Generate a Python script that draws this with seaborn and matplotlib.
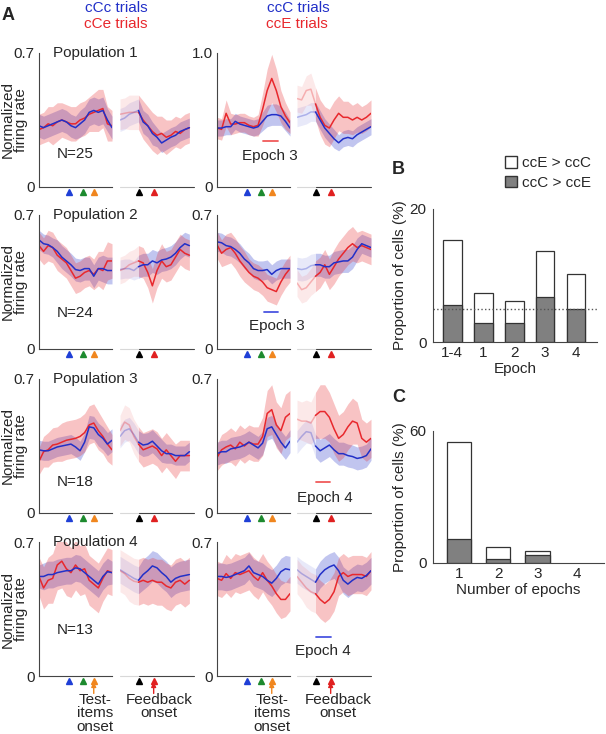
import numpy as np
import matplotlib.pyplot as plt
import seaborn as sns
from matplotlib.patches import Patch

sns.set_theme(style="white")
plt.rcParams['font.family'] = ['Liberation Sans', 'DejaVu Sans']

# ---- Panel A data: mean normalized firing rate and SEM, step 0.25 (a.u.) ----
# cCc (blue) / cCe (red) trials, left column
p1_cCc_pre = [0.32, 0.31, 0.32, 0.33, 0.34, 0.35, 0.34, 0.32, 0.31, 0.33, 0.35, 0.39, 0.40, 0.39, 0.40, 0.35, 0.31]
p1_cCc_pre_err = [0.06, 0.06, 0.06, 0.06, 0.06, 0.06, 0.06, 0.06, 0.06, 0.07, 0.07, 0.07, 0.07, 0.07, 0.07, 0.06, 0.06]
p1_cCe_pre = [0.30, 0.31, 0.33, 0.32, 0.34, 0.35, 0.34, 0.33, 0.33, 0.35, 0.36, 0.38, 0.39, 0.40, 0.41, 0.33, 0.32]
p1_cCe_pre_err = [0.08, 0.08, 0.09, 0.10, 0.10, 0.09, 0.09, 0.09, 0.09, 0.09, 0.09, 0.09, 0.10, 0.11, 0.10, 0.09, 0.08]
p1_cCc_fb = [0.35, 0.36, 0.38, 0.39, 0.40, 0.34, 0.32, 0.28, 0.26, 0.23, 0.245, 0.26, 0.27, 0.29, 0.30, 0.31]
p1_cCc_fb_err = [0.06, 0.06, 0.06, 0.06, 0.06, 0.06, 0.06, 0.06, 0.05, 0.05, 0.05, 0.05, 0.05, 0.05, 0.05, 0.05]
p1_cCe_fb = [0.38, 0.385, 0.39, 0.39, 0.39, 0.35, 0.32, 0.29, 0.27, 0.28, 0.26, 0.27, 0.29, 0.28, 0.30, 0.31]
p1_cCe_fb_err = [0.08, 0.08, 0.09, 0.09, 0.09, 0.10, 0.10, 0.10, 0.10, 0.09, 0.09, 0.08, 0.08, 0.08, 0.08, 0.08]

p2_cCc_pre = [0.57, 0.55, 0.545, 0.53, 0.51, 0.48, 0.46, 0.44, 0.415, 0.41, 0.42, 0.42, 0.38, 0.42, 0.42, 0.41, 0.41]
p2_cCc_pre_err = [0.05, 0.05, 0.05, 0.05, 0.06, 0.06, 0.06, 0.06, 0.06, 0.06, 0.06, 0.06, 0.06, 0.06, 0.07, 0.07, 0.07]
p2_cCe_pre = [0.54, 0.51, 0.54, 0.53, 0.49, 0.47, 0.45, 0.41, 0.37, 0.38, 0.40, 0.41, 0.39, 0.42, 0.41, 0.46, 0.46]
p2_cCe_pre_err = [0.07, 0.07, 0.08, 0.08, 0.08, 0.08, 0.08, 0.08, 0.08, 0.08, 0.08, 0.08, 0.08, 0.09, 0.10, 0.10, 0.09]
p2_cCc_fb = [0.415, 0.42, 0.42, 0.41, 0.43, 0.44, 0.44, 0.46, 0.45, 0.465, 0.47, 0.48, 0.50, 0.53, 0.55, 0.54]
p2_cCc_fb_err = [0.05, 0.05, 0.05, 0.05, 0.06, 0.06, 0.06, 0.06, 0.06, 0.06, 0.06, 0.06, 0.06, 0.06, 0.06, 0.06]
p2_cCe_fb = [0.41, 0.42, 0.44, 0.45, 0.46, 0.45, 0.40, 0.33, 0.41, 0.46, 0.43, 0.44, 0.48, 0.52, 0.50, 0.49]
p2_cCe_fb_err = [0.07, 0.07, 0.07, 0.07, 0.08, 0.08, 0.08, 0.09, 0.09, 0.09, 0.08, 0.08, 0.08, 0.08, 0.08, 0.08]

p3_cCc_pre = [0.33, 0.325, 0.325, 0.335, 0.345, 0.35, 0.355, 0.36, 0.345, 0.325, 0.37, 0.45, 0.445, 0.41, 0.39, 0.36, 0.38]
p3_cCc_pre_err = [0.05, 0.05, 0.05, 0.05, 0.05, 0.05, 0.05, 0.05, 0.05, 0.05, 0.05, 0.06, 0.06, 0.06, 0.06, 0.06, 0.06]
p3_cCe_pre = [0.27, 0.32, 0.33, 0.355, 0.36, 0.37, 0.38, 0.385, 0.39, 0.40, 0.42, 0.46, 0.47, 0.43, 0.40, 0.36, 0.33]
p3_cCe_pre_err = [0.07, 0.08, 0.09, 0.09, 0.09, 0.10, 0.10, 0.10, 0.10, 0.10, 0.10, 0.10, 0.10, 0.10, 0.09, 0.09, 0.08]
p3_cCc_fb = [0.40, 0.43, 0.44, 0.41, 0.37, 0.355, 0.36, 0.375, 0.35, 0.325, 0.31, 0.31, 0.30, 0.30, 0.30, 0.32]
p3_cCc_fb_err = [0.06, 0.06, 0.06, 0.06, 0.06, 0.06, 0.06, 0.06, 0.06, 0.06, 0.05, 0.05, 0.05, 0.05, 0.05, 0.05]
p3_cCe_fb = [0.43, 0.475, 0.46, 0.40, 0.36, 0.33, 0.34, 0.35, 0.335, 0.30, 0.33, 0.30, 0.27, 0.30, 0.30, 0.30]
p3_cCe_fb_err = [0.08, 0.09, 0.09, 0.09, 0.09, 0.09, 0.09, 0.09, 0.09, 0.09, 0.09, 0.09, 0.09, 0.08, 0.08, 0.08]

p4_cCc_pre = [0.52, 0.52, 0.53, 0.53, 0.54, 0.545, 0.55, 0.55, 0.565, 0.56, 0.54, 0.52, 0.50, 0.48, 0.52, 0.545, 0.54]
p4_cCc_pre_err = [0.06, 0.07, 0.07, 0.07, 0.07, 0.07, 0.07, 0.07, 0.07, 0.07, 0.07, 0.07, 0.07, 0.07, 0.07, 0.07, 0.06]
p4_cCe_pre = [0.52, 0.46, 0.50, 0.51, 0.58, 0.60, 0.56, 0.54, 0.58, 0.55, 0.56, 0.50, 0.48, 0.46, 0.51, 0.55, 0.54]
p4_cCe_pre_err = [0.10, 0.11, 0.12, 0.13, 0.13, 0.14, 0.14, 0.13, 0.13, 0.13, 0.13, 0.13, 0.13, 0.13, 0.12, 0.12, 0.12]
p4_cCc_fb = [0.555, 0.54, 0.525, 0.51, 0.50, 0.53, 0.55, 0.575, 0.565, 0.54, 0.52, 0.49, 0.51, 0.52, 0.525, 0.53]
p4_cCc_fb_err = [0.07, 0.07, 0.07, 0.07, 0.07, 0.08, 0.08, 0.08, 0.08, 0.08, 0.08, 0.08, 0.08, 0.08, 0.08, 0.08]
p4_cCe_fb = [0.55, 0.535, 0.51, 0.495, 0.49, 0.50, 0.49, 0.50, 0.49, 0.49, 0.47, 0.46, 0.49, 0.50, 0.48, 0.50]
p4_cCe_fb_err = [0.11, 0.11, 0.12, 0.12, 0.12, 0.12, 0.12, 0.12, 0.12, 0.12, 0.12, 0.12, 0.12, 0.12, 0.12, 0.12]

# ccC (blue) / ccE (red) trials, right column
p1_ccC_pre = [0.44, 0.44, 0.45, 0.45, 0.49, 0.47, 0.46, 0.45, 0.44, 0.45, 0.49, 0.53, 0.54, 0.54, 0.53, 0.49, 0.44]
p1_ccC_pre_err = [0.06, 0.06, 0.06, 0.06, 0.06, 0.06, 0.06, 0.06, 0.06, 0.06, 0.07, 0.08, 0.08, 0.08, 0.07, 0.07, 0.06]
p1_ccE_pre = [0.44, 0.43, 0.55, 0.47, 0.47, 0.48, 0.48, 0.46, 0.45, 0.46, 0.58, 0.72, 0.81, 0.72, 0.60, 0.53, 0.48]
p1_ccE_pre_err = [0.08, 0.08, 0.10, 0.08, 0.07, 0.07, 0.07, 0.07, 0.07, 0.08, 0.12, 0.16, 0.18, 0.16, 0.12, 0.10, 0.08]
p1_ccC_fb = [0.52, 0.53, 0.54, 0.56, 0.56, 0.50, 0.44, 0.40, 0.36, 0.33, 0.36, 0.37, 0.36, 0.39, 0.41, 0.43, 0.45]
p1_ccC_fb_err = [0.07, 0.07, 0.07, 0.07, 0.07, 0.07, 0.07, 0.07, 0.07, 0.06, 0.06, 0.06, 0.06, 0.06, 0.06, 0.06, 0.06]
p1_ccE_fb = [0.66, 0.65, 0.72, 0.73, 0.62, 0.52, 0.46, 0.44, 0.50, 0.55, 0.52, 0.52, 0.50, 0.52, 0.50, 0.52, 0.55]
p1_ccE_fb_err = [0.10, 0.10, 0.11, 0.12, 0.12, 0.13, 0.14, 0.14, 0.14, 0.13, 0.12, 0.12, 0.11, 0.11, 0.10, 0.10, 0.10]

p2_ccC_pre = [0.56, 0.555, 0.54, 0.535, 0.52, 0.50, 0.47, 0.45, 0.42, 0.41, 0.41, 0.415, 0.39, 0.41, 0.42, 0.42, 0.42]
p2_ccC_pre_err = [0.05, 0.05, 0.05, 0.05, 0.05, 0.05, 0.05, 0.05, 0.05, 0.05, 0.05, 0.05, 0.05, 0.05, 0.05, 0.05, 0.05]
p2_ccE_pre = [0.545, 0.50, 0.52, 0.53, 0.50, 0.46, 0.43, 0.40, 0.38, 0.37, 0.35, 0.32, 0.31, 0.30, 0.35, 0.39, 0.42]
p2_ccE_pre_err = [0.07, 0.07, 0.08, 0.08, 0.08, 0.08, 0.08, 0.07, 0.07, 0.07, 0.07, 0.07, 0.07, 0.07, 0.07, 0.07, 0.07]
p2_ccC_fb = [0.42, 0.415, 0.42, 0.435, 0.44, 0.44, 0.43, 0.43, 0.45, 0.455, 0.46, 0.46, 0.48, 0.52, 0.55, 0.54, 0.53]
p2_ccC_fb_err = [0.06, 0.06, 0.06, 0.06, 0.06, 0.06, 0.06, 0.06, 0.06, 0.06, 0.06, 0.06, 0.06, 0.06, 0.05, 0.05, 0.05]
p2_ccE_fb = [0.345, 0.31, 0.32, 0.35, 0.38, 0.40, 0.44, 0.39, 0.43, 0.47, 0.50, 0.53, 0.55, 0.53, 0.54, 0.53, 0.52]
p2_ccE_fb_err = [0.07, 0.07, 0.07, 0.07, 0.08, 0.08, 0.08, 0.08, 0.09, 0.09, 0.09, 0.09, 0.09, 0.08, 0.08, 0.08, 0.08]

p3_ccC_pre = [0.31, 0.32, 0.32, 0.335, 0.34, 0.345, 0.355, 0.37, 0.355, 0.34, 0.365, 0.44, 0.45, 0.41, 0.37, 0.34, 0.375]
p3_ccC_pre_err = [0.06, 0.06, 0.06, 0.06, 0.06, 0.06, 0.06, 0.06, 0.06, 0.06, 0.06, 0.06, 0.06, 0.06, 0.06, 0.06, 0.06]
p3_ccE_pre = [0.29, 0.33, 0.345, 0.355, 0.335, 0.37, 0.35, 0.37, 0.36, 0.36, 0.40, 0.52, 0.54, 0.46, 0.43, 0.50, 0.52]
p3_ccE_pre_err = [0.07, 0.08, 0.08, 0.09, 0.09, 0.09, 0.09, 0.09, 0.09, 0.09, 0.10, 0.12, 0.13, 0.12, 0.12, 0.12, 0.12]
p3_ccC_fb = [0.37, 0.40, 0.425, 0.42, 0.35, 0.325, 0.34, 0.355, 0.33, 0.31, 0.31, 0.30, 0.295, 0.285, 0.29, 0.30, 0.335]
p3_ccC_fb_err = [0.06, 0.06, 0.06, 0.06, 0.06, 0.06, 0.06, 0.06, 0.06, 0.06, 0.06, 0.06, 0.06, 0.06, 0.06, 0.06, 0.06]
p3_ccE_fb = [0.49, 0.48, 0.48, 0.47, 0.51, 0.53, 0.53, 0.50, 0.44, 0.39, 0.41, 0.45, 0.48, 0.47, 0.39, 0.37, 0.39]
p3_ccE_fb_err = [0.10, 0.10, 0.11, 0.11, 0.12, 0.14, 0.14, 0.13, 0.13, 0.12, 0.12, 0.12, 0.12, 0.11, 0.10, 0.10, 0.10]

p4_ccC_pre = [0.52, 0.52, 0.515, 0.52, 0.53, 0.54, 0.55, 0.575, 0.54, 0.53, 0.52, 0.50, 0.485, 0.51, 0.545, 0.56, 0.555]
p4_ccC_pre_err = [0.07, 0.07, 0.07, 0.07, 0.07, 0.07, 0.07, 0.07, 0.07, 0.07, 0.07, 0.07, 0.07, 0.07, 0.07, 0.07, 0.07]
p4_ccE_pre = [0.51, 0.50, 0.535, 0.51, 0.54, 0.53, 0.54, 0.55, 0.52, 0.50, 0.54, 0.50, 0.47, 0.43, 0.40, 0.40, 0.43]
p4_ccE_pre_err = [0.09, 0.09, 0.10, 0.10, 0.10, 0.10, 0.10, 0.10, 0.10, 0.10, 0.10, 0.10, 0.10, 0.10, 0.10, 0.09, 0.09]
p4_ccC_fb = [0.555, 0.535, 0.52, 0.505, 0.49, 0.53, 0.555, 0.57, 0.58, 0.55, 0.50, 0.48, 0.50, 0.515, 0.51, 0.525, 0.55]
p4_ccC_fb_err = [0.07, 0.07, 0.07, 0.07, 0.07, 0.07, 0.07, 0.07, 0.07, 0.07, 0.07, 0.07, 0.07, 0.07, 0.07, 0.07, 0.07]
p4_ccE_fb = [0.52, 0.49, 0.46, 0.44, 0.43, 0.40, 0.38, 0.40, 0.44, 0.52, 0.54, 0.52, 0.53, 0.53, 0.53, 0.52, 0.55]
p4_ccE_fb_err = [0.09, 0.09, 0.10, 0.10, 0.10, 0.10, 0.10, 0.10, 0.10, 0.10, 0.10, 0.10, 0.10, 0.10, 0.10, 0.10, 0.10]

n_cells = [25, 24, 18, 13]
pre_events = [1.65, 2.4, 3.0]      # blue, green, orange triangles
fb_events = [1.0, 1.82]            # black, red triangles

# ---- Panels B and C ----
b_epochs = ['1-4', '1', '2', '3', '4']
b_total = [15.3, 7.3, 6.2, 13.7, 10.2]
b_ccC_gt = [5.6, 2.9, 2.9, 6.8, 5.0]
c_n_epochs = ['1', '2', '3', '4']
c_total = [55.2, 7.3, 5.6, 0.0]
c_ccC_gt = [10.9, 1.8, 3.8, 0.0]

BLUE = '#2230c8'
RED = '#e8282d'
AXC = '#444444'
W, H = 606, 734

fig = plt.figure(figsize=(6.06, 7.34), dpi=100)


def rect(x0, y0, w, h):
    # pixel box (from top-left) -> figure fraction
    return [x0 / W, 1 - (y0 + h) / H, w / W, h / H]


def trace(ax, mean, err, color, start=0):
    x = np.arange(len(mean)) * 0.25
    m, e = np.asarray(mean), np.asarray(err)
    if start > 0:
        s = slice(0, start + 1)
        ax.fill_between(x[s], m[s] - e[s], m[s] + e[s], color=color, alpha=0.1, lw=0)
        sns.lineplot(x=x[s], y=m[s], color=color, alpha=0.3, lw=1.1, ax=ax)
    s = slice(start, None)
    ax.fill_between(x[s], m[s] - e[s], m[s] + e[s], color=color, alpha=0.28, lw=0)
    return x[s], m[s]


def style(ax, ymax, left):
    ax.set_xlim(0, 4)
    ax.set_ylim(0, ymax)
    ax.set_facecolor('none')
    for s in ['top', 'right']:
        ax.spines[s].set_visible(False)
    ax.spines['left'].set_visible(left)
    ax.spines['left'].set_color(AXC)
    ax.spines['left'].set_linewidth(0.8)
    ax.tick_params(direction='in', length=2.5, width=0.8, color=AXC, labelsize=11, pad=3)
    if left:
        ax.spines['bottom'].set_color(AXC)
        ax.spines['bottom'].set_linewidth(0.8)
        ax.set_xticks([0, 1, 2, 3, 4])
        ax.set_yticks(np.linspace(0, ymax, 8))
        ax.set_yticklabels(['0'] + [''] * 6 + [f'{ymax:.1f}'])
    else:
        ax.spines['bottom'].set_visible(False)
        tr = ax.get_xaxis_transform()
        ax.plot([0, 1], [0, 0], color='#d8d8d8', lw=0.8, transform=tr, clip_on=False)
        ax.plot([1, 4], [0, 0], color=AXC, lw=0.8, transform=tr, clip_on=False)
        ax.set_xticks([2, 3, 4])
        ax.set_yticks([])
    ax.set_xticklabels([])


col_data = [
    [(p1_cCc_pre, p1_cCc_pre_err, p1_cCe_pre, p1_cCe_pre_err, p1_cCc_fb, p1_cCc_fb_err, p1_cCe_fb, p1_cCe_fb_err),
     (p2_cCc_pre, p2_cCc_pre_err, p2_cCe_pre, p2_cCe_pre_err, p2_cCc_fb, p2_cCc_fb_err, p2_cCe_fb, p2_cCe_fb_err),
     (p3_cCc_pre, p3_cCc_pre_err, p3_cCe_pre, p3_cCe_pre_err, p3_cCc_fb, p3_cCc_fb_err, p3_cCe_fb, p3_cCe_fb_err),
     (p4_cCc_pre, p4_cCc_pre_err, p4_cCe_pre, p4_cCe_pre_err, p4_cCc_fb, p4_cCc_fb_err, p4_cCe_fb, p4_cCe_fb_err)],
    [(p1_ccC_pre, p1_ccC_pre_err, p1_ccE_pre, p1_ccE_pre_err, p1_ccC_fb, p1_ccC_fb_err, p1_ccE_fb, p1_ccE_fb_err),
     (p2_ccC_pre, p2_ccC_pre_err, p2_ccE_pre, p2_ccE_pre_err, p2_ccC_fb, p2_ccC_fb_err, p2_ccE_fb, p2_ccE_fb_err),
     (p3_ccC_pre, p3_ccC_pre_err, p3_ccE_pre, p3_ccE_pre_err, p3_ccC_fb, p3_ccC_fb_err, p3_ccE_fb, p3_ccE_fb_err),
     (p4_ccC_pre, p4_ccC_pre_err, p4_ccE_pre, p4_ccE_pre_err, p4_ccC_fb, p4_ccC_fb_err, p4_ccE_fb, p4_ccE_fb_err)],
]

row_top = [53, 215, 379, 542]
pre_x = [39, 217]
fb_x = [120, 297]
n_y = [0.17, 0.19, 0.16, 0.24]
# (row, segment, x0, x1, y, colour, label, text x, text y)
epoch_marks = [
    (0, 'pre', 2.52, 3.33, 0.34, '#f05a5a', 'Epoch 3', 2.87, 0.23),
    (1, 'pre', 2.56, 3.35, 0.194, '#4a55e0', 'Epoch 3', 3.3, 0.12),
    (2, 'fb', 1.05, 1.8, 0.16, '#f05a5a', 'Epoch 4', 1.48, 0.08),
    (3, 'fb', 1.0, 1.83, 0.206, '#4a55e0', 'Epoch 4', 1.41, 0.13),
]
arrow_kw = dict(arrowstyle='-|>', lw=1, mutation_scale=7, shrinkA=0, shrinkB=0)
axes = {}
for c in range(2):
    for r in range(4):
        ymax = 1.0 if (c == 1 and r == 0) else 0.7
        bm, be, rm, re, bfm, bfe, rfm, rfe = col_data[c][r]
        ax_pre = fig.add_axes(rect(pre_x[c], row_top[r], 73, 134))
        ax_fb = fig.add_axes(rect(fb_x[c], row_top[r], 74, 134))
        axes[(c, r, 'pre')] = ax_pre
        axes[(c, r, 'fb')] = ax_fb
        for ax, (b_m, b_e, r_m, r_e), start in [(ax_pre, (bm, be, rm, re), 0),
                                                (ax_fb, (bfm, bfe, rfm, rfe), 4)]:
            xb, yb = trace(ax, b_m, b_e, BLUE, start)
            xr, yr = trace(ax, r_m, r_e, RED, start)
            sns.lineplot(x=xr, y=yr, color=RED, lw=1.1, ax=ax)
            sns.lineplot(x=xb, y=yb, color=BLUE, lw=1.1, ax=ax)
            style(ax, ymax, ax is ax_pre)
        tr = ax_pre.get_xaxis_transform()
        for xe, ce in zip(pre_events, ['#1f3fd6', '#1d8a2e', '#f0861e']):
            ax_pre.plot(xe, -0.035, marker='^', ms=4.5, color=ce, transform=tr, clip_on=False)
        trf = ax_fb.get_xaxis_transform()
        for xe, ce in zip(fb_events, ['black', '#e02020']):
            ax_fb.plot(xe, -0.035, marker='^', ms=4.5, color=ce, transform=trf, clip_on=False)
        if c == 0:
            ax_pre.text(0.77, ymax, f'Population {r + 1}', va='center', fontsize=11)
            ax_pre.text(1.0, n_y[r], f'N={n_cells[r]}', va='center', fontsize=11)
            fig.text(14 / W, 1 - (row_top[r] + 67) / H, 'Normalized\nfiring rate', rotation=90,
                     ha='center', va='center', fontsize=11, linespacing=0.95)
        if r == 3:
            ax_pre.annotate('', xy=(3.0, -0.045), xytext=(3.0, -0.13), xycoords=('data', 'axes fraction'),
                            textcoords=('data', 'axes fraction'), annotation_clip=False,
                            arrowprops=dict(color='#f0861e', **arrow_kw))
            ax_fb.annotate('', xy=(1.82, -0.045), xytext=(1.82, -0.13), xycoords=('data', 'axes fraction'),
                           textcoords=('data', 'axes fraction'), annotation_clip=False,
                           arrowprops=dict(color='#e02020', **arrow_kw))
            ax_pre.text(3.05 if c == 0 else 3.0, -0.125, 'Test-\nitems\nonset', transform=tr,
                        ha='center', va='top', fontsize=11, linespacing=0.95)
            ax_fb.text(2.1 if c == 0 else 2.2, -0.125, 'Feedback\nonset', transform=trf,
                       ha='center', va='top', fontsize=11, linespacing=0.95)

for r, seg, x0, x1, y, col, lab, tx, ty in epoch_marks:
    ax = axes[(1, r, seg)]
    ax.plot([x0, x1], [y, y], color=col, lw=1.3, clip_on=False)
    ax.text(tx, ty, lab, ha='center', va='center', fontsize=11, clip_on=False)

fig.text(116 / W, 1 - 8 / H, 'cCc trials', color=BLUE, ha='center', va='center', fontsize=11)
fig.text(116 / W, 1 - 24 / H, 'cCe trials', color=RED, ha='center', va='center', fontsize=11)
fig.text(298 / W, 1 - 8 / H, 'ccC trials', color=BLUE, ha='center', va='center', fontsize=11)
fig.text(297 / W, 1 - 24 / H, 'ccE trials', color=RED, ha='center', va='center', fontsize=11)
fig.text(2 / W, 1 - 16 / H, 'A', fontsize=13, fontweight='bold', va='center')
fig.text(392 / W, 1 - 170 / H, 'B', fontsize=13, fontweight='bold', va='center')
fig.text(392 / W, 1 - 398 / H, 'C', fontsize=13, fontweight='bold', va='center')


def bar_panel(ax, cats, total, lower, ymax, step, xlim, xlabel, width):
    sns.barplot(x=cats, y=total, color='white', edgecolor='#333333', linewidth=0.9,
                width=width, saturation=1, errorbar=None, ax=ax)
    sns.barplot(x=cats, y=lower, color='#808080', edgecolor='#333333', linewidth=0.9,
                width=width, saturation=1, errorbar=None, ax=ax)
    for p in ax.patches:
        if p.get_height() == 0:
            p.set_visible(False)
    ax.set_xlim(*xlim)
    ax.set_ylim(0, ymax)
    ticks = np.arange(0, ymax + 0.1, step)
    ax.set_yticks(ticks)
    ax.set_yticklabels(['0'] + [''] * (len(ticks) - 2) + [f'{ymax:g}'])
    ax.set_facecolor('none')
    for s in ['top', 'right']:
        ax.spines[s].set_visible(False)
    for s in ['left', 'bottom']:
        ax.spines[s].set_color(AXC)
        ax.spines[s].set_linewidth(0.8)
    ax.tick_params(axis='y', direction='in', length=2.5, width=0.8, color=AXC, labelsize=11, pad=4.5)
    ax.tick_params(axis='x', length=0, labelsize=11, pad=3)
    ax.set_xlabel(xlabel, fontsize=11, labelpad=1)
    ax.set_ylabel('Proportion of cells (%)', fontsize=11, labelpad=2)


axB = fig.add_axes(rect(433, 209, 164, 133))
bar_panel(axB, b_epochs, b_total, b_ccC_gt, 20, 5, (-0.62, 4.68), 'Epoch', 0.61)
axB.axhline(5, ls=':', color='#555555', lw=1)
axB.legend([Patch(facecolor='white', edgecolor='#333333'), Patch(facecolor='#808080', edgecolor='#333333')],
           ['ccE > ccC', 'ccC > ccE'], loc='upper left', bbox_to_anchor=(505 / W, 1 - 156 / H),
           bbox_transform=fig.transFigure, frameon=False, fontsize=11, handlelength=0.8,
           handleheight=0.8, handletextpad=0.3, labelspacing=0.35, borderpad=0, borderaxespad=0)

axC = fig.add_axes(rect(433, 431, 171, 132))
bar_panel(axC, c_n_epochs, c_total, c_ccC_gt, 60, 10, (-0.66, 3.69), 'Number of epochs', 0.62)

fig.savefig('out.png', dpi=100)
